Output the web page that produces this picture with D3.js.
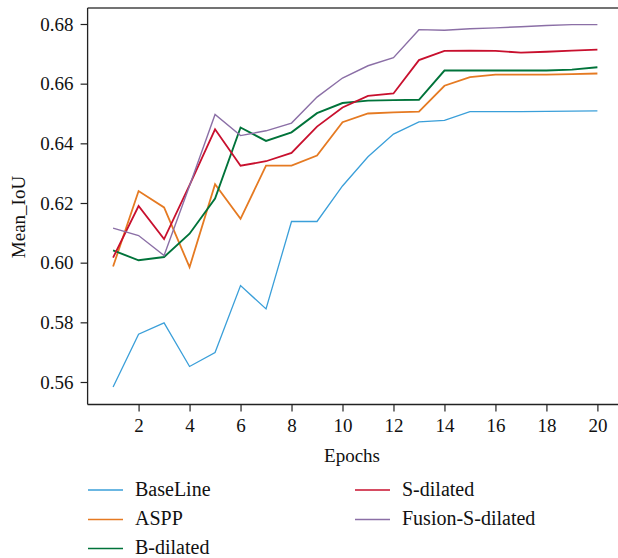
<!DOCTYPE html>
<html>
<head>
<meta charset="utf-8">
<script src="https://cdn.jsdelivr.net/npm/d3@7"></script>
<style>
  body { margin: 0; background: #fff; }
  svg text { font-family: "Liberation Serif", "DejaVu Serif", serif; fill: #111; }
</style>
</head>
<body>
<div id="chart"></div>
<script>
// Epochs on the x axis
const epochs = d3.range(1, 21);
const xTicks = [2, 4, 6, 8, 10, 12, 14, 16, 18, 20];
const yTicks = [0.56, 0.58, 0.60, 0.62, 0.64, 0.66, 0.68];

// Mean IoU per epoch
const baseLine = [0.5583, 0.5760, 0.5798, 0.5652, 0.5699, 0.5923, 0.5845, 0.6138, 0.6138, 0.6257,
                  0.6355, 0.6431, 0.6472, 0.6477, 0.6506, 0.6506, 0.6506, 0.6507, 0.6508, 0.6509];
const aspp = [0.5987, 0.6240, 0.6185, 0.5985, 0.6263, 0.6147, 0.6325, 0.6325, 0.6359, 0.6471,
              0.6500, 0.6504, 0.6506, 0.6593, 0.6622, 0.6630, 0.6630, 0.6630, 0.6632, 0.6634];
const bDilated = [0.6041, 0.6008, 0.6019, 0.6097, 0.6215, 0.6453, 0.6408, 0.6437, 0.6501, 0.6535,
                  0.6543, 0.6545, 0.6546, 0.6644, 0.6644, 0.6644, 0.6644, 0.6644, 0.6647, 0.6655];
const sDilated = [0.6017, 0.6190, 0.6079, 0.6260, 0.6447, 0.6325, 0.6340, 0.6368, 0.6456, 0.6520,
                  0.6559, 0.6567, 0.6679, 0.6710, 0.6711, 0.6710, 0.6704, 0.6707, 0.6711, 0.6714];
const fusionSDilated = [0.6116, 0.6091, 0.6024, 0.6258, 0.6497, 0.6426, 0.6442, 0.6468, 0.6555, 0.6619,
                        0.6660, 0.6687, 0.6781, 0.6779, 0.6784, 0.6787, 0.6791, 0.6795, 0.6798, 0.6798];

const seriesNames = ["BaseLine", "ASPP", "B-dilated", "S-dilated", "Fusion-S-dilated"];
const seriesValues = [baseLine, aspp, bDilated, sDilated, fusionSDilated];
const seriesColors = ["#3a9fd9", "#e57a22", "#00733a", "#c8102e", "#8b6fa6"];
const seriesWidths = [1.3, 1.8, 1.9, 1.8, 1.4];

const width = 618, height = 558;
const margin = { left: 87.6, top: 8, bottom: 404.5 };

const svg = d3.select("#chart").append("svg")
    .attr("width", width)
    .attr("height", height);

const x = d3.scaleLinear().domain([0, 21]).range([margin.left, margin.left + 21 * 25.49]);
const y = d3.scaleLinear().domain([0.56, 0.68]).range([382, 24]);

// frame: top line, left and bottom axes (right side is cut off)
svg.append("line")
    .attr("x1", margin.left).attr("x2", width)
    .attr("y1", margin.top).attr("y2", margin.top)
    .attr("stroke", "#444").attr("stroke-width", 1.6);

const xAxis = svg.append("g")
    .attr("transform", `translate(0,${margin.bottom})`)
    .call(d3.axisBottom(x).tickValues(xTicks).tickSize(7).tickPadding(7).tickSizeOuter(0));

const yAxis = svg.append("g")
    .attr("transform", `translate(${margin.left},0)`)
    .call(d3.axisLeft(y).tickValues(yTicks).tickFormat(d3.format(".2f")).tickSize(7).tickPadding(7));

[xAxis, yAxis].forEach(g => {
    g.selectAll("text").style("font-family", "'Liberation Serif', serif").style("font-size", "19px").attr("fill", "#111");
    g.selectAll("line").attr("stroke", "#222").attr("stroke-width", 1.2);
    g.select(".domain").attr("stroke", "#222").attr("stroke-width", 1.3);
});
xAxis.select(".domain").attr("d", `M${margin.left},0H${width}`);
yAxis.select(".domain").attr("d", `M0,${margin.bottom}V${margin.top}`);

// axis titles
svg.append("text")
    .attr("x", 352).attr("y", 462)
    .attr("text-anchor", "middle")
    .style("font-size", "19px")
    .text("Epochs");

svg.append("text")
    .attr("transform", "translate(25,217) rotate(-90)")
    .attr("text-anchor", "middle")
    .style("font-size", "19px")
    .text("Mean_IoU");

// lines
const line = d3.line()
    .x((d, i) => x(epochs[i]))
    .y(d => y(d));

svg.append("g")
    .selectAll("path")
    .data(seriesValues)
    .join("path")
    .attr("d", d => line(d))
    .attr("fill", "none")
    .attr("stroke", (d, i) => seriesColors[i])
    .attr("stroke-width", (d, i) => seriesWidths[i])
    .attr("stroke-linejoin", "miter");

// legend: two columns
const legendPos = [
    { x: 88, y: 490 }, { x: 88, y: 519.5 }, { x: 88, y: 548.5 },
    { x: 355, y: 490 }, { x: 355, y: 519.5 }
];

const legend = svg.append("g")
    .selectAll("g")
    .data(seriesNames)
    .join("g")
    .attr("transform", (d, i) => `translate(${legendPos[i].x},${legendPos[i].y})`);

legend.append("line")
    .attr("x1", 0).attr("x2", 35)
    .attr("stroke", (d, i) => seriesColors[i])
    .attr("stroke-width", 1.5);

legend.append("text")
    .attr("x", 47).attr("y", 5.5)
    .style("font-size", "20px")
    .text(d => d);
</script>
</body>
</html>
